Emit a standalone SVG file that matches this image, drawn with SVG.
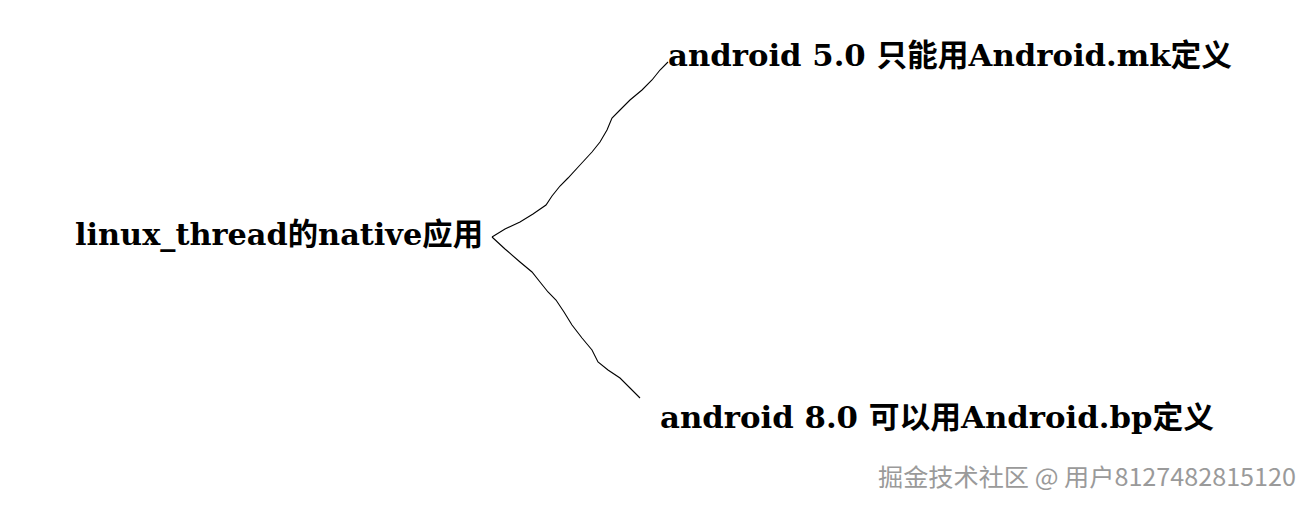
<svg xmlns="http://www.w3.org/2000/svg" width="1313" height="508" viewBox="0 0 1313 508">
<style>
.t{font-family:"DejaVu Serif","Noto Sans CJK SC",serif;font-weight:bold;font-size:30.5px;fill:#000}
.c{fill:none;stroke:#000;stroke-width:1.1}
.w{font-family:"Noto Sans CJK SC","Liberation Sans",sans-serif;font-size:24px;fill:#9a9a9a}
</style>
<rect width="1313" height="508" fill="#fff"/>
<g id="connectors">
<path class="c" d="M492,237 L505,229 L520,222 L533,214 L546,205 L552,196 L560,186 L568,178 L580,165 L592,152 L600,142 L607,130 L612,118 L620,110 L630,100 L642,90 L652,80 L660,70 L668,62"/>
<path class="c" d="M492,237 L505,249 L520,262 L532,272 L540,282 L548,292 L556,300 L564,312 L572,325 L582,338 L592,350 L598,362 L608,370 L620,378 L630,388 L640,398"/>
</g>
<g id="root"><text class="t" x="75" y="245" textLength="408" lengthAdjust="spacingAndGlyphs">linux_thread的native应用</text></g>
<g id="n1"><text class="t" x="668" y="66" textLength="564" lengthAdjust="spacingAndGlyphs">android 5.0 只能用Android.mk定义</text></g>
<g id="n2"><text class="t" x="660" y="428" textLength="554" lengthAdjust="spacingAndGlyphs">android 8.0 可以用Android.bp定义</text></g>
<text class="w" x="878" y="486" textLength="418" lengthAdjust="spacingAndGlyphs">掘金技术社区 @ 用户8127482815120</text>
</svg>
